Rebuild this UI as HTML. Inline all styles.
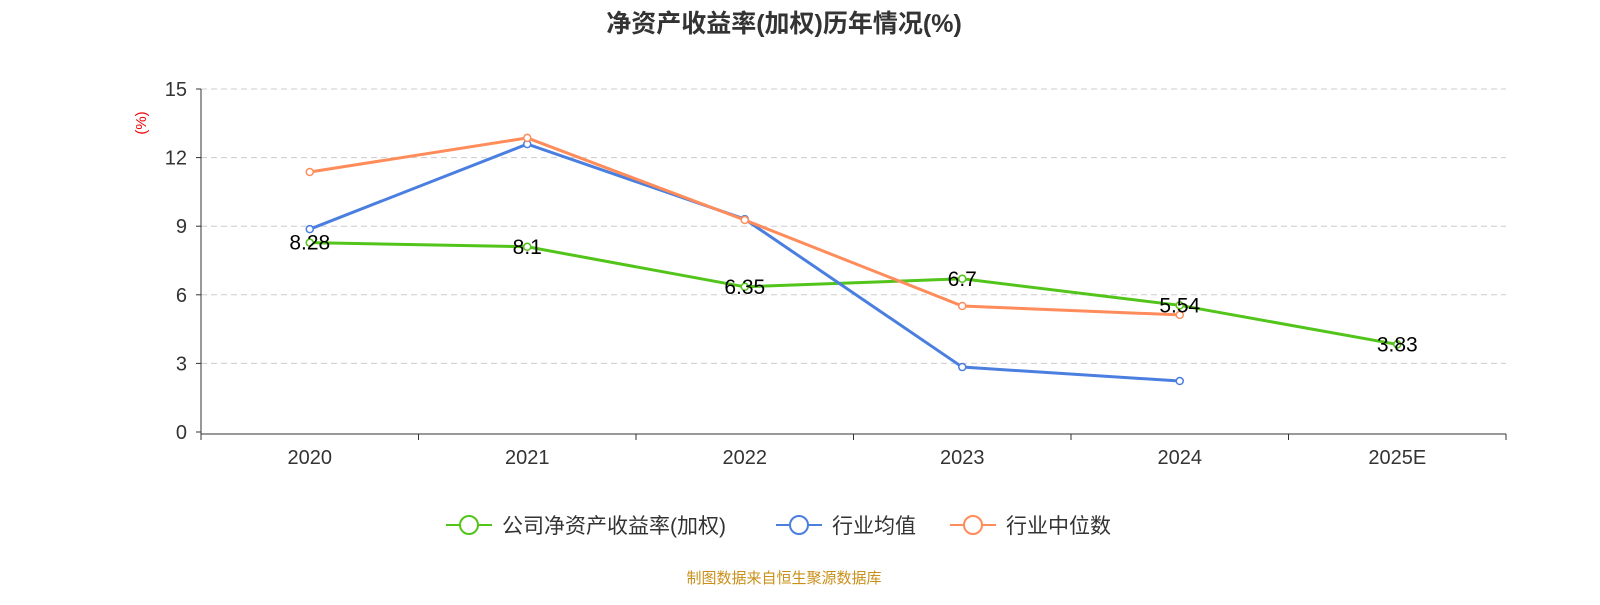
<!DOCTYPE html>
<html><head><meta charset="utf-8"><style>
body{margin:0;background:#fff;font-family:"Liberation Sans","Noto Sans CJK SC",sans-serif}
svg text{font-family:"Liberation Sans","Noto Sans CJK SC",sans-serif}
</style></head><body>
<svg id="chart" width="1600" height="600" xmlns="http://www.w3.org/2000/svg">
<text x="784" y="32" text-anchor="middle" font-size="25" font-weight="bold" fill="#333">净资产收益率(加权)历年情况(%)</text>
<text x="0" y="0" transform="translate(146,123) rotate(-90)" text-anchor="middle" font-size="15" fill="#e00">(%)</text>
<g id="grid"></g><g id="axes"></g><g id="series"></g><g id="labels"></g>
<g>
<g><line x1="446" y1="525" x2="492" y2="525" stroke="#52c41a" stroke-width="2"/><circle cx="469" cy="525" r="9" fill="#fff" stroke="#52c41a" stroke-width="2"/><text x="502" y="533" font-size="21" fill="#333">公司净资产收益率(加权)</text></g>
<g><line x1="776" y1="525" x2="822" y2="525" stroke="#4a7fe0" stroke-width="2"/><circle cx="799" cy="525" r="9" fill="#fff" stroke="#4a7fe0" stroke-width="2"/><text x="832" y="533" font-size="21" fill="#333">行业均值</text></g>
<g><line x1="950" y1="525" x2="996" y2="525" stroke="#ff8c5a" stroke-width="2"/><circle cx="973" cy="525" r="9" fill="#fff" stroke="#ff8c5a" stroke-width="2"/><text x="1006" y="533" font-size="21" fill="#333">行业中位数</text></g>
</g>
<text x="784" y="583" text-anchor="middle" font-size="15" fill="#c8901a">制图数据来自恒生聚源数据库</text>
</svg>
<script>
const categories=["2020","2021","2022","2023","2024","2025E"];
const companyValues=[8.28,8.1,6.35,6.7,5.54,3.83];
const industryAvg=[8.87,12.59,9.31,2.84,2.23];
const industryMedian=[11.37,12.86,9.27,5.51,5.12];
const yTicks=[0,3,6,9,12,15];
const NS="http://www.w3.org/2000/svg";
const X0=201,X1=1506,Y0=432,Y1=89;
const bw=(X1-X0)/categories.length;
const xs=i=>X0+bw*(i+0.5);
const ys=v=>Y0-(v/15)*(Y0-Y1);
function mk(p,t,a){const e=document.createElementNS(NS,t);for(const k in a)e.setAttribute(k,a[k]);document.getElementById(p).appendChild(e);return e;}
yTicks.forEach(v=>{
 if(v>0){const g=mk('grid','line',{x1:X0,x2:X1,y1:ys(v),y2:ys(v),stroke:'#ccc','stroke-dasharray':'6,4'});
 
 }
 mk('axes','line',{x1:X0-5,x2:X0,y1:ys(v),y2:ys(v),stroke:'#333'});
 const t=mk('axes','text',{x:X0-14,y:ys(v)+7,'text-anchor':'end','font-size':20,fill:'#333'});t.textContent=v;
 
 
});
mk('axes','line',{x1:X0,x2:X0,y1:Y1,y2:Y0+2,stroke:'#333'});
mk('axes','line',{x1:X0,x2:X1,y1:Y0+2,y2:Y0+2,stroke:'#333'});
for(let i=0;i<=categories.length;i++)mk('axes','line',{x1:X0+bw*i,x2:X0+bw*i,y1:Y0+2,y2:Y0+8,stroke:'#333'});
categories.forEach((c,i)=>{const t=mk('axes','text',{x:xs(i),y:464,'text-anchor':'middle','font-size':20,fill:'#333'});t.textContent=c;
 
 });
function series(vals,color,name){
 const pl=mk('series','polyline',{points:vals.map((v,i)=>xs(i)+','+ys(v)).join(' '),fill:'none',stroke:color,'stroke-width':3});
 
 
 vals.forEach((v,i)=>{const c=mk('series','circle',{cx:xs(i),cy:ys(v),r:3.5,fill:'#fff',stroke:color,'stroke-width':1.5});
 
 });
}
series(companyValues,'#52c41a','company');
series(industryAvg,'#4a7fe0','industry-avg');
series(industryMedian,'#ff8c5a','industry-median');
companyValues.forEach((v,i)=>{const t=mk('labels','text',{x:xs(i),y:ys(v)+7,'text-anchor':'middle','font-size':21,fill:'#000'});t.textContent=v;
 
 });
</script>
</body></html>
